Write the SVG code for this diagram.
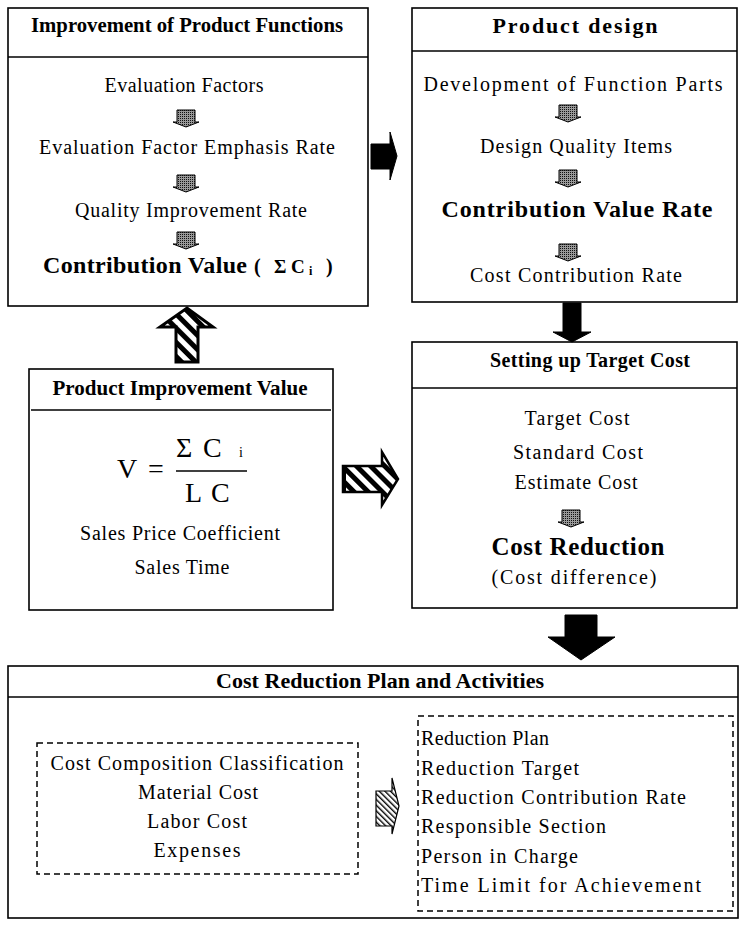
<svg xmlns="http://www.w3.org/2000/svg" width="741" height="928" viewBox="0 0 741 928">
<style>
.t{font-family:"Liberation Serif","Times New Roman",serif;font-size:20px;fill:#000;text-anchor:middle}
.s{text-anchor:start}
.b{font-weight:bold}
.box{fill:#fff;stroke:#000;stroke-width:1.6}
.hdr{stroke:#000;stroke-width:1.6}
.dash{fill:none;stroke:#000;stroke-width:1.5;stroke-dasharray:6 4}
.blk{fill:#000;stroke:#000;stroke-width:1}
.sm{fill:url(#dots);stroke:#000;stroke-width:1}
</style>
<defs>
<pattern id="hatch" patternUnits="userSpaceOnUse" width="10" height="10" patternTransform="rotate(-45)">
<rect width="10" height="10" fill="#fff"/>
<rect width="5" height="10" fill="#000"/>
</pattern>
<pattern id="hatchs" patternUnits="userSpaceOnUse" width="4" height="4" patternTransform="rotate(-45)">
<rect width="4" height="4" fill="#fff"/>
<rect width="1.4" height="4" fill="#000"/>
</pattern>
<pattern id="dots" patternUnits="userSpaceOnUse" width="2" height="2">
<rect width="2" height="2" fill="#999"/>
<rect width="1" height="1" fill="#111"/>
</pattern>
<g id="smallArrow">
<polygon class="sm" points="-9,0 9,0 9,12 13,12 0,17 -13,12 -9,12"/>
</g>
</defs>
<rect width="741" height="928" fill="#fff"/>

<g id="improvement-of-product-functions">
<rect class="box" x="8" y="8" width="360" height="298" stroke-width="2"/>
<line class="hdr" x1="8" y1="57" x2="368" y2="57"/>
<text class="t b" x="187" y="32" textLength="312" lengthAdjust="spacingAndGlyphs">Improvement of Product Functions</text>
<text class="t" x="184" y="92" textLength="159">Evaluation Factors</text>
<text class="t" x="187" y="154" textLength="296">Evaluation Factor Emphasis Rate</text>
<text class="t" x="191" y="217" textLength="232">Quality Improvement Rate</text>
<text class="t s b" x="43" y="273" style="font-size:24px"><tspan textLength="204">Contribution Value</tspan><tspan x="254" style="font-size:20px">(</tspan><tspan x="274" style="font-size:19px">Σ</tspan><tspan x="291" style="font-size:19px">C</tspan><tspan x="309" dy="2" style="font-size:12px">i</tspan><tspan x="326" dy="-2" style="font-size:20px">)</tspan></text>
</g>

<g id="product-design">
<rect class="box" x="412" y="8" width="325" height="294"/>
<line class="hdr" x1="412" y1="51" x2="737" y2="51"/>
<text class="t b" x="575" y="33" style="font-size:22px" textLength="165">Product design</text>
<text class="t" x="573" y="91" textLength="299">Development of Function Parts</text>
<text class="t" x="576" y="153" textLength="192">Design Quality Items</text>
<text class="t b" x="577" y="217" style="font-size:24px" textLength="271">Contribution Value Rate</text>
<text class="t" x="576" y="282" textLength="212">Cost Contribution Rate</text>
</g>

<g id="product-improvement-value">
<rect class="box" x="29" y="369" width="304" height="241" stroke-width="4.5"/>
<line class="hdr" x1="31" y1="410" x2="331" y2="410" stroke-width="2"/>
<text class="t b" x="180" y="395" textLength="255" lengthAdjust="spacingAndGlyphs">Product Improvement Value</text>
<text class="t s" x="117" y="478" style="font-size:28px">V <tspan x="148">=</tspan></text>
<text class="t s" x="176" y="457" style="font-size:28px">Σ<tspan x="203">C</tspan><tspan x="239" style="font-size:14px">i</tspan></text>
<line x1="176" y1="471" x2="247" y2="471" stroke="#000" stroke-width="1.6"/>
<text class="t s" x="185" y="502" style="font-size:28px">L<tspan x="211">C</tspan></text>
<text class="t" x="180" y="540" textLength="200">Sales Price Coefficient</text>
<text class="t" x="182" y="574" textLength="95">Sales Time</text>
</g>

<g id="setting-up-target-cost">
<rect class="box" x="412" y="342" width="325" height="266"/>
<line class="hdr" x1="412" y1="388" x2="737" y2="388"/>
<text class="t b" x="590" y="367" textLength="200">Setting up Target Cost</text>
<text class="t" x="577" y="425" textLength="105">Target Cost</text>
<text class="t" x="578" y="459" textLength="130">Standard Cost</text>
<text class="t" x="576" y="489" textLength="123">Estimate Cost</text>
<text class="t b" x="578" y="555" style="font-size:25px" textLength="173">Cost Reduction</text>
<text class="t" x="574" y="584" textLength="165">(Cost difference)</text>
</g>

<g id="cost-reduction-plan-and-activities">
<rect class="box" x="8" y="666" width="730" height="252"/>
<line class="hdr" x1="8" y1="697" x2="738" y2="697"/>
<text class="t b" x="380" y="688" style="font-size:22px" textLength="328">Cost Reduction Plan and Activities</text>
<g id="cost-composition">
<rect class="dash" x="37" y="743" width="321" height="131"/>
<text class="t" x="197" y="770" textLength="293">Cost Composition Classification</text>
<text class="t" x="198" y="799" textLength="120">Material Cost</text>
<text class="t" x="197" y="828" textLength="100">Labor Cost</text>
<text class="t" x="197" y="857" textLength="87">Expenses</text>
</g>
<g id="reduction-plan">
<rect class="dash" x="418" y="716" width="315" height="195"/>
<text class="t s" x="421" y="745" textLength="128">Reduction Plan</text>
<text class="t s" x="421" y="775" textLength="158">Reduction Target</text>
<text class="t s" x="421" y="804" textLength="265">Reduction Contribution Rate</text>
<text class="t s" x="421" y="833" textLength="185">Responsible Section</text>
<text class="t s" x="421" y="863" textLength="157">Person in Charge</text>
<text class="t s" x="421" y="892" textLength="280">Time Limit for Achievement</text>
</g>
</g>

<g id="connectors">
<use href="#smallArrow" x="186" y="110"/>
<use href="#smallArrow" x="186" y="175"/>
<use href="#smallArrow" x="186" y="232"/>
<use href="#smallArrow" x="568" y="105"/>
<use href="#smallArrow" x="568" y="170"/>
<use href="#smallArrow" x="568" y="244"/>
<use href="#smallArrow" x="571" y="510"/>
<polygon class="blk" points="371,144 390,144 390,132 397,156 390,180 390,169 371,169"/>
<polygon class="blk" points="563,303 581,303 581,332 591,332 572,342 553,332 563,332"/>
<polygon class="blk" points="565,615 597,615 597,637 615,637 581,660 548,637 565,637"/>
<polygon points="176,362 176,327 160,327 187,308 213,327 198,327 198,362" fill="url(#hatch)" stroke="#000" stroke-width="3" stroke-linejoin="miter"/>
<polygon points="343,466 382,466 382,452 398,479 382,505 382,492 343,492" fill="url(#hatch)" stroke="#000" stroke-width="2.5"/>
<line x1="344" y1="465" x2="344" y2="493" stroke="#000" stroke-width="4"/>
<polygon points="376,791 392,791 392,778 399,806 392,834 392,826 376,826" fill="url(#hatchs)" stroke="#000" stroke-width="1.2"/>
</g>
</svg>
